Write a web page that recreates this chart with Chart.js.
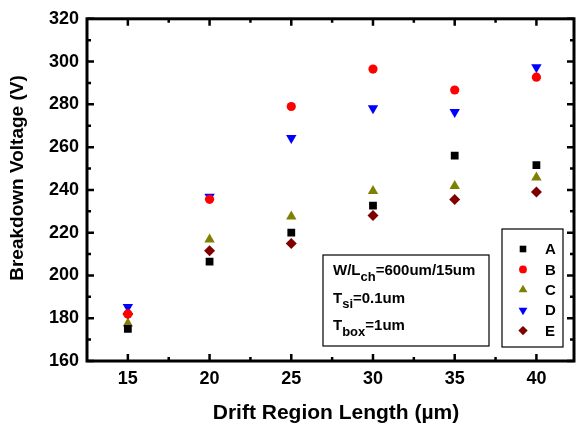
<!DOCTYPE html>
<html>
<head>
<meta charset="utf-8">
<script src="https://cdn.jsdelivr.net/npm/chart.js@4.4.0/dist/chart.umd.min.js"></script>
<style>
  html, body { margin: 0; padding: 0; background: #fff; }
  #wrap { width: 580px; height: 426px; }
</style>
</head>
<body>
<div id="wrap"><canvas id="bvChart"></canvas></div>
<script>
// drift region length (um) and breakdown voltage (V) per device
const driftLength = [15, 20, 25, 30, 35, 40];
const seriesA = [175, 206.5, 220, 232.6, 256, 251.6];
const seriesB = [182, 235.6, 279, 296.5, 286.7, 292.7];
const seriesC = [177.5, 216.8, 227.6, 239.5, 241.8, 245.8];
const seriesD = [185.3, 236.8, 264.3, 278.2, 276.4, 297.4];
const seriesE = [182, 211.5, 214.9, 228, 235.5, 239];
const seriesNames = ['A', 'B', 'C', 'D', 'E'];
const xTicks = [15, 20, 25, 30, 35, 40];
const yTicks = [160, 180, 200, 220, 240, 260, 280, 300, 320];
const xTitle = 'Drift Region Length (\u00b5m)';
const yTitle = 'Breakdown Voltage (V)';

const FONT = '"Liberation Sans", Arial, sans-serif';

const markers = [
  { color: '#000000', pointStyle: 'rect', radius: 5.5, rotation: 0 },
  { color: '#ff0000', pointStyle: 'circle', radius: 4.6, rotation: 0 },
  { color: '#808000', pointStyle: 'triangle', radius: 6, rotation: 0 },
  { color: '#0000ff', pointStyle: 'triangle', radius: 6, rotation: 180 },
  { color: '#800000', pointStyle: 'rectRot', radius: 5.5, rotation: 0 }
];

function toPoints(vals) {
  return driftLength.map((x, i) => ({ x: x, y: vals[i] }));
}

const allSeries = [seriesA, seriesB, seriesC, seriesD, seriesE];
const datasets = allSeries.map((vals, i) => ({
  label: seriesNames[i],
  data: toPoints(vals),
  pointStyle: markers[i].pointStyle,
  pointRadius: markers[i].radius,
  pointRotation: markers[i].rotation,
  pointBackgroundColor: markers[i].color,
  pointBorderColor: markers[i].color,
  pointBorderWidth: 0,
  showLine: false
}));

// frame, inward ticks, axis titles, legend and annotation box
const framePlugin = {
  id: 'frame',
  afterDraw(chart) {
    const ctx = chart.ctx;
    const a = chart.chartArea;
    const xs = chart.scales.x, ys = chart.scales.y;
    ctx.save();
    ctx.strokeStyle = '#000';
    ctx.lineWidth = 3;
    ctx.strokeRect(a.left, a.top, a.right - a.left, a.bottom - a.top);

    ctx.lineWidth = 2.5;
    ctx.beginPath();
    xTicks.forEach(v => {
      const px = xs.getPixelForValue(v);
      ctx.moveTo(px, a.bottom); ctx.lineTo(px, a.bottom - 7);
      ctx.moveTo(px, a.top); ctx.lineTo(px, a.top + 7);
      const mx = xs.getPixelForValue(v + 2.5);
      if (v + 2.5 < xs.max) {
        ctx.moveTo(mx, a.bottom); ctx.lineTo(mx, a.bottom - 4);
        ctx.moveTo(mx, a.top); ctx.lineTo(mx, a.top + 4);
      }
    });
    yTicks.forEach(v => {
      const py = ys.getPixelForValue(v);
      ctx.moveTo(a.left, py); ctx.lineTo(a.left + 7, py);
      ctx.moveTo(a.right, py); ctx.lineTo(a.right - 7, py);
      if (v + 10 < 320) {
        const my = ys.getPixelForValue(v + 10);
        ctx.moveTo(a.left, my); ctx.lineTo(a.left + 4, my);
        ctx.moveTo(a.right, my); ctx.lineTo(a.right - 4, my);
      }
    });
    ctx.stroke();

    // axis titles
    ctx.fillStyle = '#000';
    ctx.textAlign = 'center';
    ctx.textBaseline = 'middle';
    ctx.font = 'bold 21px ' + FONT;
    ctx.fillText(xTitle, 336, 413);
    ctx.save();
    ctx.translate(18, 178);
    ctx.rotate(-Math.PI / 2);
    ctx.font = 'bold 19px ' + FONT;
    ctx.fillText(yTitle, 0, 0);
    ctx.restore();

    // legend box
    ctx.lineWidth = 1.2;
    ctx.strokeRect(502, 229, 61, 118);
    ctx.font = 'bold 15px ' + FONT;
    ctx.textAlign = 'left';
    seriesNames.forEach((name, i) => {
      const y = 249 + i * 20.4;
      const m = markers[i];
      ctx.fillStyle = m.color;
      Chart.helpers.drawPoint(ctx, {
        pointStyle: m.pointStyle, radius: m.radius * 0.85, rotation: m.rotation, borderWidth: 0
      }, 523, y);
      ctx.fillStyle = '#000';
      ctx.fillText(name, 545, y + 1);
    });

    // device parameters box
    ctx.strokeRect(323, 255, 166, 91);
    const lines = [['W/L', 'ch', '=600um/15um'], ['T', 'si', '=0.1um'], ['T', 'box', '=1um']];
    lines.forEach((ln, i) => {
      const y = 271 + i * 27.5;
      let x = 333;
      ctx.font = 'bold 15px ' + FONT;
      ctx.fillStyle = '#000';
      ctx.fillText(ln[0], x, y);
      x += ctx.measureText(ln[0]).width;
      ctx.font = 'bold 13px ' + FONT;
      ctx.fillText(ln[1], x, y + 6);
      x += ctx.measureText(ln[1]).width;
      ctx.font = 'bold 15px ' + FONT;
      ctx.fillText(ln[2], x, y);
    });
    ctx.restore();
  }
};

new Chart(document.getElementById('bvChart').getContext('2d'), {
  type: 'scatter',
  data: { datasets: datasets },
  options: {
    responsive: true,
    maintainAspectRatio: false,
    animation: false,
    layout: { padding: { top: 18, right: 3, left: 0, bottom: 0 } },
    plugins: {
      legend: { display: false },
      tooltip: { enabled: false }
    },
    scales: {
      x: {
        type: 'linear',
        min: 12.5,
        max: 42.3,
        afterBuildTicks: s => { s.ticks = xTicks.map(v => ({ value: v })); },
        afterFit: s => { s.height = 65; },
        grid: { display: false, drawTicks: false },
        border: { display: false },
        ticks: { color: '#000', padding: 7, font: { family: FONT, size: 18, weight: 'bold' } }
      },
      y: {
        min: 160,
        max: 320,
        afterBuildTicks: s => { s.ticks = yTicks.map(v => ({ value: v })); },
        afterFit: s => { s.width = 87; },
        grid: { display: false, drawTicks: false },
        border: { display: false },
        ticks: { color: '#000', padding: 8, font: { family: FONT, size: 18, weight: 'bold' } }
      }
    }
  },
  plugins: [framePlugin]
});
</script>
</body>
</html>
